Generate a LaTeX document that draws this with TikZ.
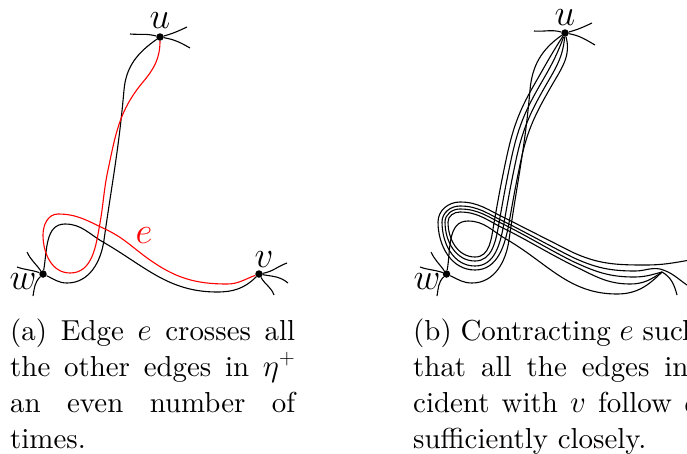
\documentclass[tikz,border=0pt]{standalone}
\usepackage{fix-cm}
\usepackage{fontspec}
\setmainfont{lmroman10-regular.otf}
\newcommand{\capmath}[1]{{\fontsize{31}{36}\selectfont$#1$}}
\begin{document}
\begin{tikzpicture}[x=1pt,y=-1pt,
  edgeline/.style={line width=1.1pt,black},
  rededge/.style={line width=1.1pt,red},
  dot/.style={circle,fill=black,inner sep=0pt,minimum size=7.5pt},
  vlabel/.style={inner sep=0pt,font=\fontsize{37}{36}\selectfont},
  captext/.style={anchor=base west,inner sep=0pt,font=\fontsize{28.9}{36}\selectfont}]
\clip (0,0) rectangle (687,453);
% ---------- panel (a)
\node[dot] (u) at (160,37) {};
\node[dot] (v) at (259,274) {};
\node[dot] (w) at (43,274) {};
\node[vlabel] (lu) at (160,21) {$u$};
\node[vlabel] (lv) at (264,260) {$v$};
\node[vlabel] (lw) at (23,282) {$w$};
\node[vlabel,text=red] (le) at (144,236) {$e$};
\draw[edgeline] (u) to[out=215,in=85] (124,90) to[out=265,in=82] (104,240) to[out=262,in=0] (67,283) to[out=180,in=-25] (w);
\draw[edgeline] (w) to[out=80,in=180] (65,224) to[out=0,in=150] (103,242) to[out=-30,in=180] (217,292) to[out=0,in=225] (v);
\draw[edgeline] (u) to[out=165,in=-5] (130,34);
\draw[edgeline] (u) to[out=15,in=205] (187,27);
\draw[edgeline] (u) to[out=-10,in=150] (190,48);
\draw[edgeline] (w) to[out=160,in=-20] (17,267);
\draw[edgeline] (w) to[out=125,in=-65] (27,252);
\draw[edgeline] (w) to[out=225,in=80] (33,296);
\draw[edgeline] (v) to[out=10,in=200] (287,263);
\draw[edgeline] (v) to[out=-10,in=140] (288,283);
\draw[edgeline] (v) to[out=-60,in=110] (274,295);
\draw[rededge] (u) to[out=-90,in=50] (143,82) to[out=230,in=78] (108,170) to[out=258,in=80] (100,223) to[out=260,in=0] (70,273) to[out=180,in=-90] (43,235) to[out=90,in=180] (58,214) to[out=0,in=155] (105,229) to[out=-25,in=145] (150,260) to[out=-35,in=180] (227,284) to[out=0,in=200] (v);
% ---------- panel (b)
\node[dot] (u2) at (565,33) {};
\coordinate (v2) at (662,272);
\node[dot] (w2) at (446.5,274) {};
\node[vlabel] (lu2) at (565,18) {$u$};
\node[vlabel] (lw2) at (427,282) {$w$};
\coordinate (s1) at (690,260);
\coordinate (s2) at (690,287);
\coordinate (s3) at (677,295);
\draw[edgeline] (u2) to[out=215,in=85] (530,90) to[out=265,in=82] (509,240) to[out=262,in=0] (472,283) to[out=180,in=-25] (w2);
\draw[edgeline] (w2) to[out=80,in=180] (468,221) to[out=0,in=150] (506,239) to[out=-30,in=180] (617,294) to[out=0,in=225] (v2);
\draw[edgeline] (u2) to[out=165,in=-5] (534,31);
\draw[edgeline] (u2) to[out=15,in=205] (592,23);
\draw[edgeline] (u2) to[out=-10,in=150] (595,45);
\draw[edgeline] (w2) to[out=160,in=-20] (420,267);
\draw[edgeline] (w2) to[out=125,in=-65] (431,252);
\draw[edgeline] (w2) to[out=225,in=80] (437,296);
% bundle, outermost loop first
\draw[edgeline] (u2) to[out=-75,in=60] (552,85) to[out=240,in=78] (521,160) to[out=258,in=80] (509,223) to[out=260,in=0] (475,270) to[out=180,in=-90] (438,222) to[out=90,in=180] (460,202) to[out=0,in=155] (505,218) to[out=-27,in=153] (572,252) to[out=-25,in=180] (645,265) to[out=0,in=190] (s1);
\draw[edgeline] (u2) to[out=-95,in=60] (546,85) to[out=240,in=78] (516,160) to[out=258,in=80] (504,223) to[out=260,in=0] (475,266) to[out=180,in=-90] (442,222) to[out=90,in=180] (460,206) to[out=0,in=155] (505,222) to[out=-27,in=153] (572,257) to[out=-25,in=180] (635,271) to[out=0,in=170] (660,269) to[out=-15,in=148] (s2);
\draw[edgeline] (u2) to[out=-110,in=60] (540,85) to[out=240,in=78] (511,160) to[out=258,in=80] (499,223) to[out=260,in=0] (475,261) to[out=180,in=-90] (445,222) to[out=90,in=180] (460,209) to[out=0,in=155] (505,225) to[out=-27,in=153] (572,261) to[out=-25,in=180] (634,277) to[out=0,in=195] (v2) to[out=-30,in=105] (s3);
\draw[edgeline] (u2) to[out=237,in=60] (534,85) to[out=240,in=78] (506,160) to[out=258,in=80] (494,223) to[out=260,in=0] (475,257) to[out=180,in=-90] (448,222) to[out=90,in=180] (460,212) to[out=0,in=155] (505,229) to[out=-27,in=153] (572,265) to[out=-25,in=180] (630,284) to[out=0,in=215] (v2);
% ---------- captions
\node[captext] (a1) at (10,340) {\makebox[285pt][s]{(a) Edge \capmath{e} crosses all}};
\node[captext] (a2) at (10,376) {\makebox[285pt][s]{the other edges in \capmath{\eta^+}}};
\node[captext] (a3) at (10,412) {\makebox[285pt][s]{an even number of}};
\node[captext] (a4) at (10,448) {times.};
\node[captext] (b1) at (413,340) {\makebox[285pt][s]{(b) Contracting \capmath{e} such}};
\node[captext] (b2) at (413,376) {\makebox[285pt][s]{that all the edges in-}};
\node[captext] (b3) at (413,412) {\makebox[285pt][s]{cident with \capmath{v} follow \capmath{e}}};
\node[captext] (b4) at (413,448) {sufficiently closely.};
\end{tikzpicture}
\end{document}
